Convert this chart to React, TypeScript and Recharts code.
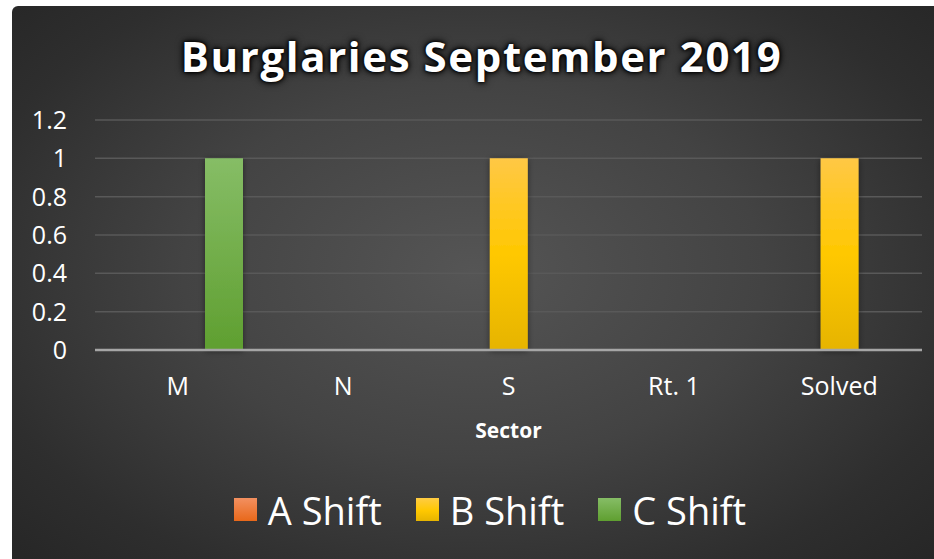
import React from "react";
import {
  BarChart,
  Bar,
  XAxis,
  YAxis,
  CartesianGrid,
  Legend,
  ReferenceLine,
} from "recharts";

const sectors = ["M", "N", "S", "Rt. 1", "Solved"];
const aShift = [0, 0, 0, 0, 0];
const bShift = [0, 0, 1, 0, 1];
const cShift = [1, 0, 0, 0, 0];
const yTicks = [0, 0.2, 0.4, 0.6, 0.8, 1, 1.2];

const seriesInfo = [
  { key: "aShift", name: "A Shift", fill: "url(#gradA)", swatch: "linear-gradient(#f39060, #e8681a)" },
  { key: "bShift", name: "B Shift", fill: "url(#gradB)", swatch: "linear-gradient(#ffcc44, #ffc800 55%, #e6b400)" },
  { key: "cShift", name: "C Shift", fill: "url(#gradC)", swatch: "linear-gradient(#86bd66, #5f9f30)" },
];

const FONT = "'Open Sans', 'Noto Sans', sans-serif";

function fmtTick(v: number) {
  return String(Math.round(v * 10) / 10);
}

function LegendContent() {
  return (
    <div
      style={{
        height: 99,
        display: "flex",
        justifyContent: "center",
        alignItems: "center",
        paddingLeft: 46,
        fontFamily: FONT,
        fontSize: 38,
        color: "#ffffff",
        boxSizing: "border-box",
      }}
    >
      {seriesInfo.map((s) => (
        <div key={s.key} style={{ display: "flex", alignItems: "center", margin: "0 17px" }}>
          <span style={{ width: 23, height: 23, background: s.swatch, display: "inline-block", marginRight: 11 }} />
          <span>{s.name}</span>
        </div>
      ))}
    </div>
  );
}

export default function App() {
  const data = sectors.map((s, i) => ({
    sector: s,
    aShift: aShift[i],
    bShift: bShift[i],
    cShift: cShift[i],
  }));

  return (
    <div
      style={{
        position: "absolute",
        left: 12,
        top: 6,
        width: 922,
        height: 553,
        borderTopLeftRadius: 6,
        overflow: "hidden",
        background:
          "radial-gradient(ellipse 70% 75% at 50% 48%, #555555 0%, #434343 45%, #2e2e2e 80%, #262626 100%)",
      }}
    >
      <div
        style={{
          position: "absolute",
          top: 21,
          left: 0,
          width: 922,
          paddingLeft: 17,
          boxSizing: "border-box",
          textAlign: "center",
          fontFamily: FONT,
          fontWeight: 700,
          fontSize: 42,
          letterSpacing: 1.6,
          color: "#ffffff",
          textShadow: "0 0 8px #000, 0 0 5px #000, 0 0 3px #000",
          zIndex: 2,
        }}
      >
        Burglaries September 2019
      </div>
      <BarChart
        width={922}
        height={553}
        data={data}
        margin={{ top: 114, right: 12, left: 0, bottom: 0 }}
        barGap={8}
        barSize={38}
      >
        <defs>
          <linearGradient id="gradA" x1="0" y1="0" x2="0" y2="1">
            <stop offset="0%" stopColor="#f39060" />
            <stop offset="100%" stopColor="#e8681a" />
          </linearGradient>
          <linearGradient id="gradB" x1="0" y1="0" x2="0" y2="1">
            <stop offset="0%" stopColor="#ffc845" />
            <stop offset="50%" stopColor="#ffc800" />
            <stop offset="100%" stopColor="#e6b400" />
          </linearGradient>
          <linearGradient id="gradC" x1="0" y1="0" x2="0" y2="1">
            <stop offset="0%" stopColor="#86bd66" />
            <stop offset="100%" stopColor="#5f9f30" />
          </linearGradient>
          <filter id="barShadow" x="-30%" y="-10%" width="160%" height="120%">
            <feDropShadow dx="0" dy="1" stdDeviation="3" floodColor="#000" floodOpacity="0.45" />
          </filter>
        </defs>
        <CartesianGrid vertical={false} stroke="#595959" strokeWidth={1.5} />
        <XAxis
          dataKey="sector"
          axisLine={false}
          tickLine={false}
          tick={{ fill: "#ffffff", fontSize: 25, fontFamily: FONT }}
          tickMargin={21}
          height={110}
          label={{
            value: "Sector",
            position: "insideTop",
            offset: 73,
            fill: "#ffffff",
            fontSize: 21,
            fontWeight: 700,
            fontFamily: FONT,
          }}
        />
        <YAxis
          width={83}
          domain={[0, 1.2]}
          ticks={yTicks}
          axisLine={false}
          tickLine={false}
          tickSize={0}
          tickMargin={28}
          tickFormatter={fmtTick}
          tick={{ fill: "#ffffff", fontSize: 25, fontFamily: FONT }}
        />
        <ReferenceLine y={0} stroke="#a6a6a6" strokeWidth={2.5} />
        <Legend verticalAlign="bottom" content={<LegendContent />} />
        {seriesInfo.map((s) => (
          <Bar
            key={s.key}
            dataKey={s.key}
            name={s.name}
            fill={s.fill}
            filter="url(#barShadow)"
            isAnimationActive={false}
          />
        ))}
      </BarChart>
    </div>
  );
}
